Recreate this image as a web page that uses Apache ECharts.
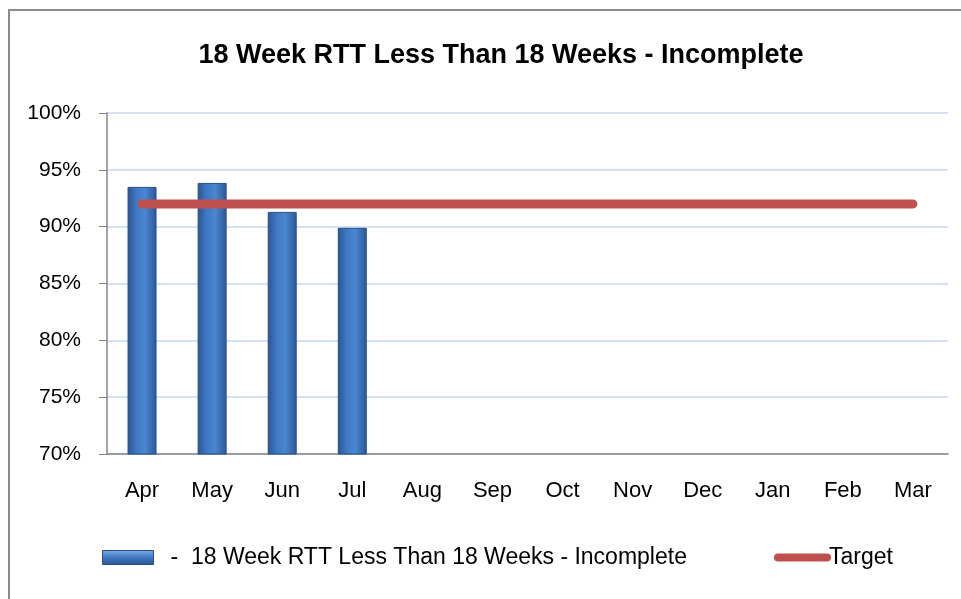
<!DOCTYPE html>
<html>
<head>
<meta charset="utf-8">
<script src="https://cdn.jsdelivr.net/npm/echarts@6/dist/echarts.min.js"></script>
<style>
	html, body { margin: 0; padding: 0; background: #fff; }
	#chart { width: 961px; height: 599px; }
</style>
</head>
<body>
<div id="chart"></div>
<script>
( function() {

	const months = ['Apr', 'May', 'Jun', 'Jul', 'Aug', 'Sep', 'Oct', 'Nov', 'Dec', 'Jan', 'Feb', 'Mar'];
	const rttValues = [93.5, 93.85, 91.3, 89.9, null, null, null, null, null, null, null, null];
	const targetValues = [92, 92, 92, 92, 92, 92, 92, 92, 92, 92, 92, 92];
	const yTicks = [70, 75, 80, 85, 90, 95, 100];

	const barName = '-  18 Week RTT Less Than 18 Weeks - Incomplete';
	const lineName = 'Target';
	const font = '"Liberation Sans", Arial, sans-serif';

	const barGradient = new echarts.graphic.LinearGradient(0, 0, 1, 0, [
		{ offset: 0, color: '#2a5592' },
		{ offset: 0.3, color: '#3f78c2' },
		{ offset: 0.6, color: '#4a86d0' },
		{ offset: 1, color: '#2b5897' }
	]);

	const legendBar = new echarts.graphic.LinearGradient(0, 0, 0, 1, [
		{ offset: 0, color: '#7fb2ea' },
		{ offset: 0.5, color: '#3f78c2' },
		{ offset: 1, color: '#2a5592' }
	]);

	const chart = echarts.init(document.getElementById('chart'));

	chart.setOption({
		animation: false,
		backgroundColor: '#fff',
		title: {
			text: '18 Week RTT Less Than 18 Weeks - Incomplete',
			left: 496,
			top: 37,
			textAlign: 'center',
			textStyle: { fontFamily: font, fontSize: 27, fontWeight: 'bold', color: '#000' }
		},
		graphic: [{
			type: 'rect',
			shape: { x: 9, y: 10, width: 1200, height: 1000 },
			style: { fill: 'none', stroke: '#8c8c8c', lineWidth: 2 },
			silent: true
		}],
		legend: [{
			data: [{ name: barName, icon: 'rect', itemStyle: { color: legendBar, borderColor: '#274f87', borderWidth: 1 } }],
			left: 97,
			top: 541,
			itemWidth: 51,
			itemHeight: 14,
			textStyle: { fontFamily: font, fontSize: 23, color: '#000', padding: [0, 0, 0, 12] }
		}, {
			data: [{ name: lineName, icon: 'path://M4,0 L53,0 A4,4 0 0 1 53,8 L4,8 A4,4 0 0 1 4,0 Z', itemStyle: { color: '#c0504d' } }],
			left: 769,
			top: 541,
			itemWidth: 57,
			itemHeight: 9,
			textStyle: { fontFamily: font, fontSize: 23, color: '#000', padding: [0, 0, 0, -7] }
		}],
		grid: { left: 107, right: 13, top: 113, bottom: 145 },
		xAxis: {
			type: 'category',
			data: months,
			axisLine: { lineStyle: { color: '#868686', width: 1.5 } },
			axisTick: { length: 8, lineStyle: { color: '#868686' } },
			axisLabel: { fontFamily: font, fontSize: 22, color: '#000', margin: 26 }
		},
		yAxis: {
			type: 'value',
			min: yTicks[0],
			max: yTicks[yTicks.length - 1],
			interval: 5,
			axisLine: { show: true, lineStyle: { color: '#868686', width: 1.5 } },
			axisTick: { show: true, length: 8, lineStyle: { color: '#868686' } },
			axisLabel: { fontFamily: font, fontSize: 21, color: '#000', margin: 26, formatter: '{value}%' },
			splitLine: { lineStyle: { color: '#c6d9f1', width: 1.5 } }
		},
		series: [{
			name: barName,
			type: 'bar',
			data: rttValues,
			barWidth: 29,
			itemStyle: { color: barGradient, borderColor: '#274f87', borderWidth: 1 }
		}, {
			name: lineName,
			type: 'line',
			data: targetValues,
			symbol: 'none',
			z: 5,
			lineStyle: { color: '#c0504d', width: 9, cap: 'round' },
			itemStyle: { color: '#c0504d' }
		}]
	});

}() );
</script>
</body>
</html>
